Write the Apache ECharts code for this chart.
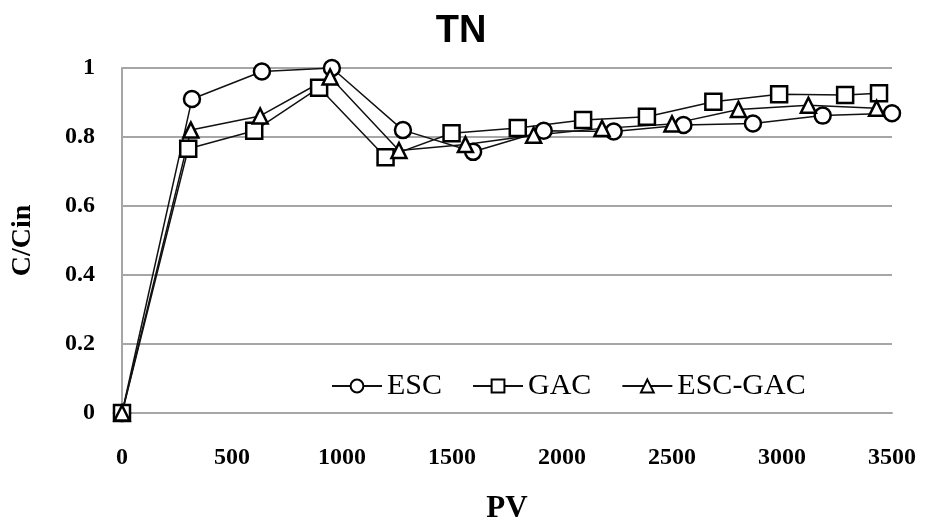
<!DOCTYPE html>
<html>
<head>
<meta charset="utf-8">
<script src="https://cdn.jsdelivr.net/npm/echarts@6/dist/echarts.min.js"></script>
<style>
html,body{margin:0;padding:0;background:#fff;}
#main{width:925px;height:529px;}
</style>
</head>
<body>
<div id="main"></div>
<script>
var seriesNames = ['ESC', 'GAC', 'ESC-GAC'];
var escX = [0, 318, 636, 954, 1277, 1596, 1917, 2235, 2552, 2868, 3185, 3500];
var escY = [0, 0.91, 0.99, 1.0, 0.82, 0.757, 0.818, 0.816, 0.835, 0.839, 0.862, 0.869];
var gacX = [0, 301, 601, 896, 1198, 1498, 1799, 2096, 2386, 2688, 2987, 3287, 3441];
var gacY = [0, 0.766, 0.818, 0.943, 0.741, 0.811, 0.826, 0.849, 0.859, 0.902, 0.924, 0.922, 0.927];
var escGacX = [0, 313, 628, 946, 1259, 1561, 1871, 2182, 2500, 2802, 3120, 3430];
var escGacY = [0, 0.82, 0.861, 0.974, 0.761, 0.778, 0.805, 0.825, 0.838, 0.88, 0.892, 0.883];
var symbols = ['circle', 'rect', 'triangle'];
var symbolSizes = [16, 16, 15];

function pairs(xs, ys){
	var out = [];
	for(var i = 0 ; i < xs.length ; i++ ){
		out.push([xs[i], ys[i]]);
	}
	return out;
}

var allData = [pairs(escX, escY), pairs(gacX, gacY), pairs(escGacX, escGacY)];
var series = [];
for(var s = 0 ; s < seriesNames.length ; s++ ){
	series.push({
		name: seriesNames[s],
		type: 'line',
		data: allData[s],
		symbol: symbols[s],
		symbolSize: symbolSizes[s],
		clip: false,
		lineStyle: {color: '#111', width: 1.5},
		itemStyle: {color: '#fff', borderColor: '#000', borderWidth: 2.5},
		animation: false
	});
}

var serif = '"Liberation Serif", "Times New Roman", serif';
var myChart = echarts.init(document.getElementById('main'));
var option = {
	backgroundColor: '#fff',
	title: {
		text: 'TN',
		left: 456,
		textAlign: 'center',
		top: 8,
		textStyle: {fontFamily: '"Liberation Sans", Arial, sans-serif', fontWeight: 'bold', fontSize: 38, color: '#000'}
	},
	legend: {
		data: seriesNames,
		left: 326,
		top: 366,
		itemWidth: 50,
		itemHeight: 16,
		itemGap: 30,
		textStyle: {fontFamily: serif, fontSize: 30, color: '#000', lineHeight: 30}
	},
	grid: {left: 122, right: 33, top: 68, bottom: 106},
	xAxis: {
		type: 'value',
		min: 0,
		max: 3500,
		interval: 500,
		name: 'PV',
		nameLocation: 'middle',
		nameGap: 80,
		nameTextStyle: {fontFamily: serif, fontWeight: 'bold', fontSize: 31, color: '#000'},
		axisLine: {show: true, lineStyle: {color: '#a6a6a6', width: 2}},
		axisTick: {show: false},
		splitLine: {show: false},
		axisLabel: {
			margin: 33,
			fontFamily: serif, fontWeight: 'bold', fontSize: 24, color: '#000',
			formatter: function(v){ return String(v); }
		}
	},
	yAxis: {
		type: 'value',
		min: 0,
		max: 1,
		interval: 0.2,
		name: 'C/Cin',
		nameLocation: 'middle',
		nameRotate: 90,
		nameGap: 85,
		nameTextStyle: {fontFamily: serif, fontWeight: 'bold', fontSize: 28, color: '#000'},
		axisLine: {show: true, lineStyle: {color: '#a6a6a6', width: 2}},
		axisTick: {show: false},
		splitLine: {show: true, lineStyle: {color: '#a6a6a6', width: 2}},
		axisLabel: {margin: 27, fontFamily: serif, fontWeight: 'bold', fontSize: 24, color: '#000'}
	},
	series: series
};
myChart.setOption(option);
</script>
</body>
</html>
